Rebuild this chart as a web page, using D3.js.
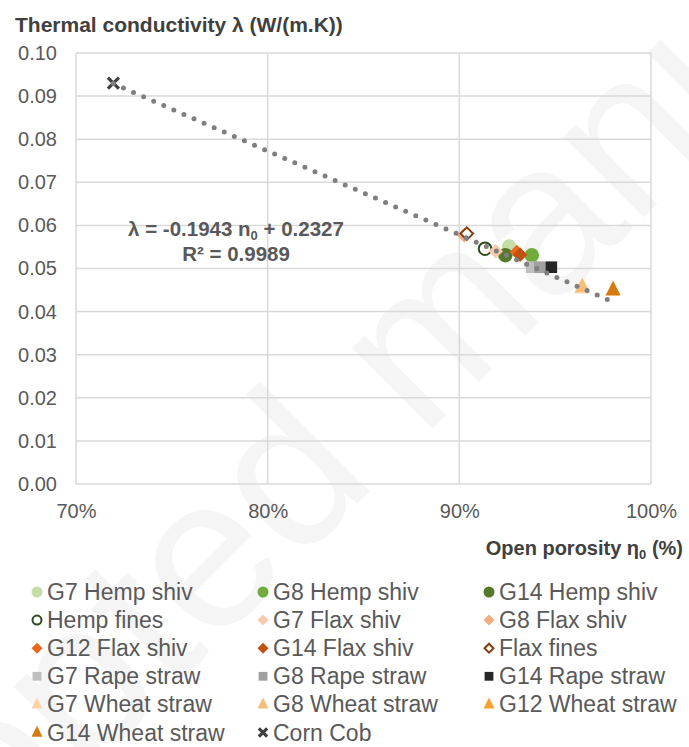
<!DOCTYPE html>
<html>
<head>
<meta charset="utf-8">
<script src="https://cdn.jsdelivr.net/npm/d3@7"></script>
<style>
  html, body { margin: 0; padding: 0; background: #fff; }
  svg { display: block; }
  text { font-family: "Liberation Sans", Arial, sans-serif; }
</style>
</head>
<body>
<div id="chart"></div>
<script>
// Series names, in legend order
const seriesNames = [
  "G7 Hemp shiv", "G8 Hemp shiv", "G14 Hemp shiv",
  "Hemp fines", "G7 Flax shiv", "G8 Flax shiv",
  "G12 Flax shiv", "G14 Flax shiv", "Flax fines",
  "G7 Rape straw", "G8 Rape straw", "G14 Rape straw",
  "G7 Wheat straw", "G8 Wheat straw", "G12 Wheat straw",
  "G14 Wheat straw", "Corn Cob"
];
// Open porosity (fraction) per series
const porosity = [
  0.926, 0.9378, 0.924,
  0.9134, 0.919, 0.9025,
  0.930, 0.9317, 0.9039,
  0.9378, 0.942, 0.948,
  0.9636, 0.9642, 0.980,
  0.9803, 0.7195
];
// Thermal conductivity (W/(m.K)) per series
const conductivity = [
  0.0551, 0.0531, 0.0531,
  0.0546, 0.0540, 0.0577,
  0.0538, 0.0532, 0.0581,
  0.0503, 0.0503, 0.0503,
  0.0455, 0.0458, 0.0450,
  0.0451, 0.0930
];
const shapes = [
  "circle", "circle", "circle",
  "circleOpen", "diamond", "diamond",
  "diamond", "diamond", "diamondOpen",
  "square", "square", "square",
  "triangle", "triangle", "triangle",
  "triangle", "cross"
];
const colors = [
  "#c3dfa6", "#70ab3c", "#537a2a",
  "#2f4a1a", "#f8cbad", "#f4ab7f",
  "#ec661e", "#c2500f", "#843c0c",
  "#bfbfbf", "#a0a0a0", "#262626",
  "#fbd3ab", "#f8bd78", "#f7a030",
  "#d67a12", "#404040"
];
// Linear fit reported on the chart
const slope = -0.1943, intercept = 0.2327, r2 = 0.9989;
const xTicks = [0.7, 0.8, 0.9, 1.0];
const yTicks = [0, 0.01, 0.02, 0.03, 0.04, 0.05, 0.06, 0.07, 0.08, 0.09, 0.10];

const W = 689, H = 747;
const svg = d3.select("#chart").append("svg").attr("width", W).attr("height", H);

const x = d3.scaleLinear().domain([0.7, 1.0]).range([76, 651]);
const y = d3.scaleLinear().domain([0, 0.10]).range([484, 53]);

// Faint diagonal stamp in the background
svg.append("text")
  .attr("transform", "translate(-254,1115) rotate(-45)")
  .attr("font-size", 215).attr("fill", "#f5f5f5")
  .text("Accepted manuscript");

const grid = "#d9d9d9";
// Gridlines
svg.append("g").selectAll("line").data(yTicks).join("line")
  .attr("x1", x(0.7)).attr("x2", x(1.0))
  .attr("y1", d => y(d)).attr("y2", d => y(d))
  .attr("stroke", grid).attr("stroke-width", 1.5);
svg.append("g").selectAll("line").data(xTicks).join("line")
  .attr("y1", y(0)).attr("y2", y(0.10))
  .attr("x1", d => x(d)).attr("x2", d => x(d))
  .attr("stroke", grid).attr("stroke-width", 1.5);

// Axes (labels only)
const yAxis = d3.axisLeft(y).tickValues(yTicks).tickFormat(d3.format(".2f")).tickSize(0).tickPadding(19);
const gy = svg.append("g").attr("transform", `translate(${x(0.7)},0)`).call(yAxis);
gy.select(".domain").remove();
gy.selectAll("text").attr("font-size", 20).attr("fill", "#595959")
  .attr("font-family", "Liberation Sans, Arial, sans-serif");

const xAxis = d3.axisBottom(x).tickValues(xTicks).tickFormat(d3.format(".0%")).tickSize(0).tickPadding(20);
const gx = svg.append("g").attr("transform", `translate(0,${y(0)})`).call(xAxis);
gx.select(".domain").remove();
gx.selectAll("text").attr("font-size", 20).attr("fill", "#595959")
  .attr("font-family", "Liberation Sans, Arial, sans-serif");

// Axis titles
svg.append("text").attr("x", 15).attr("y", 32)
  .attr("font-size", 21).attr("font-weight", "bold").attr("fill", "#404040")
  .text("Thermal conductivity λ (W/(m.K))");
const xt = svg.append("text").attr("x", 683).attr("y", 555).attr("text-anchor", "end")
  .attr("font-size", 20).attr("font-weight", "bold").attr("fill", "#404040");
xt.append("tspan").text("Open porosity η");
xt.append("tspan").attr("font-size", 13).attr("dy", 4).text("0");
xt.append("tspan").attr("dy", -4).text(" (%)");

// Marker drawing
function marker(g, shape, color, s) {
  if (shape === "circle") {
    g.append("circle").attr("r", s * 0.5).attr("fill", color);
  } else if (shape === "circleOpen") {
    g.append("circle").attr("r", s * 0.5 - 1).attr("fill", "#fff").attr("stroke", color).attr("stroke-width", 2);
  } else if (shape === "diamond" || shape === "diamondOpen") {
    const h = s * 0.5;
    const p = `M0,${-h}L${h},0L0,${h}L${-h},0Z`;
    if (shape === "diamond") g.append("path").attr("d", p).attr("fill", color);
    else {
      const h2 = h - 1;
      g.append("path").attr("d", `M0,${-h2}L${h2},0L0,${h2}L${-h2},0Z`)
        .attr("fill", "#fff").attr("stroke", color).attr("stroke-width", 2);
    }
  } else if (shape === "square") {
    const h = s * 0.4;
    g.append("rect").attr("x", -h).attr("y", -h).attr("width", 2 * h).attr("height", 2 * h).attr("fill", color);
  } else if (shape === "triangle") {
    const w = s * 0.5;
    g.append("path").attr("d", `M0,${-s * 0.62}L${w},${s * 0.38}L${-w},${s * 0.38}Z`).attr("fill", color);
  } else if (shape === "cross") {
    const h = s * 0.38;
    g.append("path").attr("d", `M${-h},${-h}L${h},${h}M${h},${-h}L${-h},${h}`)
      .attr("stroke", color).attr("stroke-width", 3.2).attr("stroke-linecap", "butt");
  }
}

const pts = seriesNames.map((n, i) => ({ name: n, px: porosity[i], k: conductivity[i], shape: shapes[i], color: colors[i] }));

const pg = svg.append("g");
pts.forEach(d => {
  const g = pg.append("g").attr("transform", `translate(${x(d.px)},${y(d.k)})`);
  marker(g, d.shape, d.color, 14.5);
});

// Trendline (dotted) across the porosity range
const ext = d3.extent(porosity);
const line = d3.line().x(d => x(d)).y(d => y(slope * d + intercept));
svg.append("path").datum(ext).attr("d", line)
  .attr("fill", "none").attr("stroke", "#7f7f7f").attr("stroke-width", 5)
  .attr("stroke-linecap", "round").attr("stroke-dasharray", "0 11");

// Fit equation
const eq = svg.append("text").attr("x", 236).attr("y", 236).attr("text-anchor", "middle")
  .attr("font-size", 20.5).attr("font-weight", "bold").attr("fill", "#595959");
eq.append("tspan").text(`λ = ${slope} n`);
eq.append("tspan").attr("font-size", 13).attr("dy", 4).text("0");
eq.append("tspan").attr("dy", -4).text(` + ${intercept}`);
svg.append("text").attr("x", 236).attr("y", 261).attr("text-anchor", "middle")
  .attr("font-size", 20.5).attr("font-weight", "bold").attr("fill", "#595959")
  .text(`R² = ${r2}`);

// Legend
const colText = [47, 273, 499];
const rowY = d3.range(6).map(r => 592 + r * 28.1);
const lg = svg.append("g");
pts.forEach((d, i) => {
  const c = i % 3, r = Math.floor(i / 3);
  const tx = colText[c], ty = rowY[r];
  const g = lg.append("g").attr("transform", `translate(${tx - 10},${ty})`);
  marker(g, d.shape, d.color, 11);
  lg.append("text").attr("x", tx).attr("y", ty + 8)
    .attr("font-size", 23).attr("fill", "#595959").text(d.name);
});
</script>
</body>
</html>
